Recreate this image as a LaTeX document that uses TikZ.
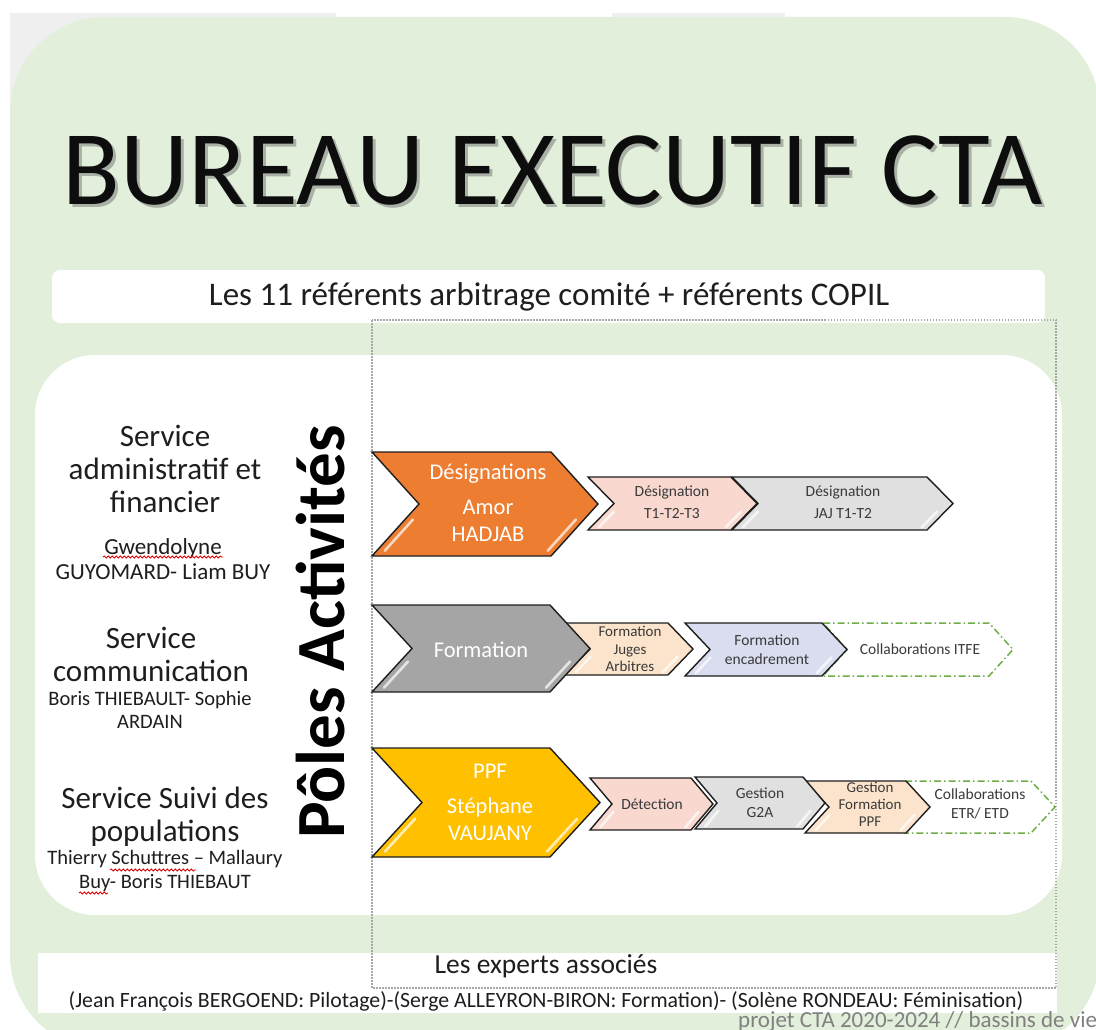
\documentclass[tikz,border=0pt]{standalone}
\usepackage{fontspec}
\setmainfont{Carlito}
\usetikzlibrary{decorations.pathmorphing}

\definecolor{bggreen}{HTML}{E2EFDA}
\definecolor{framegrey}{HTML}{EFEFEF}
\definecolor{orangefill}{HTML}{ED7D31}
\definecolor{greyfill}{HTML}{A5A5A5}
\definecolor{yellowfill}{HTML}{FFC000}
\definecolor{pinkfill}{HTML}{F8D8CF}
\definecolor{lightgreyfill}{HTML}{E0E0E0}
\definecolor{peachfill}{HTML}{FCE4CC}
\definecolor{lavenderfill}{HTML}{D9DDEF}
\definecolor{dashgreen}{HTML}{70AD47}
\definecolor{inktext}{HTML}{1E1E1E}
\definecolor{smalltext}{HTML}{3A3A3A}
\definecolor{dotgrey}{HTML}{A8A8A8}
\definecolor{shadowgrey}{HTML}{A9B0A6}

% chevron outline: left x, top y, tip x, bottom y, depth, style
\newcommand\chevshape[6]{%
  \path[#6] (#1,#2) -- ({#3-#5},#2) -- (#3,{(#2+#4)/2}) -- ({#3-#5},#4)
    -- (#1,#4) -- ({#1+#5},{(#2+#4)/2}) -- cycle;}
% glossy highlights along the two lower slanted edges
\newcommand\chevgloss[5]{%
  \draw[gloss] ({#1+#5-0.3*#5+8},{(#2+#4)/2+0.3*(#4-#2)/2})
            -- ({#1+#5-0.9*#5+8},{(#2+#4)/2+0.9*(#4-#2)/2});
  \draw[gloss] ({#3-0.3*#5-8},{(#2+#4)/2+0.3*(#4-#2)/2})
            -- ({#3-0.9*#5-8},{(#2+#4)/2+0.9*(#4-#2)/2});}
% text with a soft drop shadow
\newcommand\shadowed[1]{\makebox[0pt][l]{\hspace{3pt}\raisebox{-3pt}{\color{shadowgrey}#1}}#1}

\tikzset{
  chev/.style={draw=inktext, line width=1.4pt, line join=miter},
  chevdash/.style={draw=dashgreen, fill=white, line width=1.5pt,
    dash pattern=on 7pt off 3pt on 1.5pt off 3pt},
  gloss/.style={draw=white, opacity=0.7, line width=2.6pt, line cap=round},
  bigtxt/.style={text=white, align=center, inner sep=0pt,
    font=\fontsize{22.5}{27}\selectfont},
  smalltxt/.style={text=smalltext, align=center, inner sep=0pt,
    font=\fontsize{15.5}{19}\selectfont},
  servtxt/.style={text=inktext, align=center, inner sep=0pt,
    font=\fontsize{31}{33}\selectfont},
  nametxt/.style={text=inktext, align=center, inner sep=0pt,
    font=\fontsize{20.5}{23.5}\selectfont},
  spell/.style={draw=red!85!black, line width=0.8pt,
    decorate, decoration={snake, segment length=4pt, amplitude=1.1pt}},
}

\begin{document}
\begin{tikzpicture}[x=1pt, y=-1pt]
\useasboundingbox (0,0) rectangle (1096,1030);
\clip (0,0) rectangle (1096,1030);
\fill[white] (0,0) rectangle (1096,1030);

% frame pieces behind the panel
\fill[framegrey] (10,13) rectangle (336,140);
\fill[framegrey] (612,13) rectangle (785,40);

% main light green panel
\fill[bggreen, rounded corners=95pt] (10,17) rectangle (1100,1050);

% title
\node[text=black!95, inner sep=0pt,
  font=\fontsize{106}{112}\selectfont] (title) at (553,172) {\shadowed{BUREAU EXECUTIF CTA}};

% referents band
\fill[white, rounded corners=8pt] (52,270) rectangle (1045,323);
\node[text=inktext, inner sep=0pt, font=\fontsize{33}{36}\selectfont]
  (referents) at (549,297) {Les 11 référents arbitrage comité + référents COPIL};

% central white panel
\fill[white, rounded corners=60pt] (35,355) rectangle (1062,915);

% experts band
\fill[white] (38,953) rectangle (1057,1013);

% dotted frame around the activity poles
\draw[dotgrey, line width=1.1pt, dash pattern=on 1.5pt off 1.5pt]
  (372,320) rectangle (1056,988);

% ---- row 1 : designations
\chevshape{732}{477}{953}{530}{26}{chev, fill=lightgreyfill}
\chevgloss{732}{477}{953}{530}{26}
\chevshape{588}{477}{757}{530}{26}{chev, fill=pinkfill}
\chevgloss{588}{477}{757}{530}{26}
\chevshape{372}{452}{598}{556}{47}{chev, fill=orangefill}
\chevgloss{372}{452}{598}{556}{47}

% ---- row 2 : formation
\chevshape{823}{623}{1013}{676}{24}{chevdash}
\chevshape{685}{623}{847}{676}{25}{chev, fill=lavenderfill}
\chevgloss{685}{623}{847}{676}{25}
\chevshape{565}{623}{693}{675}{25}{chev, fill=peachfill}
\chevgloss{565}{623}{693}{675}{25}
\chevshape{372}{605}{590}{692}{40}{chev, fill=greyfill}
\chevgloss{372}{605}{590}{692}{40}

% ---- row 3 : PPF
\chevshape{905}{781}{1055}{833}{24}{chevdash}
\chevshape{805}{781}{930}{833}{24}{chev, fill=peachfill}
\chevgloss{805}{781}{930}{833}{24}
\chevshape{695}{777}{825}{829}{22}{chev, fill=lightgreyfill}
\chevgloss{695}{777}{825}{829}{22}
\chevshape{590}{778}{713}{830}{22}{chev, fill=pinkfill}
\chevgloss{590}{778}{713}{830}{22}
\chevshape{372}{748}{600}{857}{50}{chev, fill=yellowfill}
\chevgloss{372}{748}{600}{857}{50}

% chevron labels
\node[bigtxt] (desig) at (488,503) {Désignations\\[8pt]Amor\\HADJAB};
\node[smalltxt] (desigT) at (672,502) {Désignation\\[3pt]T1-T2-T3};
\node[smalltxt] (desigJAJ) at (843,502) {Désignation\\[3pt]JAJ T1-T2};

\node[bigtxt] (form) at (481,650) {Formation};
\node[smalltxt, font=\fontsize{15}{17.5}\selectfont] (formJA) at (630,649) {Formation\\Juges\\Arbitres};
\node[smalltxt] (formEnc) at (767,650) {Formation\\encadrement};
\node[smalltxt] (collabITFE) at (920,649) {Collaborations ITFE};

\node[bigtxt] (ppf) at (490,802) {PPF\\[8pt]Stéphane\\VAUJANY};
\node[smalltxt] (detect) at (652,804) {Détection};
\node[smalltxt] (g2a) at (760,803) {Gestion\\G2A};
\node[smalltxt, font=\fontsize{15}{17}\selectfont] (gestPPF) at (870,804) {Gestion\\Formation\\PPF};
\node[smalltxt] (collabETR) at (980,804) {Collaborations\\ETR/ ETD};

% pole title
\node[rotate=90, inner sep=0pt, text=black,
  font=\fontsize{69}{74}\selectfont\bfseries] (poles) at (320,632) {Pôles Activités};

% services
\node[servtxt] (serv1) at (165,469) {Service\\administratif et\\financier};
\node[nametxt, font=\fontsize{23}{24.5}\selectfont] (name1) at (163,559) {Gwendolyne\\GUYOMARD- Liam BUY};
\node[servtxt] (serv2) at (151,654) {Service\\communication};
\node[nametxt] (name2) at (150,710) {Boris THIEBAULT- Sophie\\ARDAIN};
\node[servtxt] (serv3) at (165,817) {Service Suivi des\\populations};
\node[nametxt] (name3) at (165,871) {Thierry Schuttres – Mallaury\\Buy- Boris THIEBAUT};

% spelling marks
\draw[spell] (103,557) -- (223,557);
\draw[spell] (110,870) -- (196,870);
\draw[spell] (79,893) -- (108,893);

% experts
\node[text=inktext, inner sep=0pt, font=\fontsize{27.5}{30}\selectfont]
  (experts) at (546,966) {Les experts associés};
\node[text=inktext, inner sep=0pt, font=\fontsize{21.8}{24}\selectfont]
  (expertlist) at (546,1001) {(Jean François BERGOEND: Pilotage)-(Serge ALLEYRON-BIRON: Formation)- (Solène RONDEAU: Féminisation)};
\node[anchor=west, text=gray, inner sep=0pt, font=\fontsize{23}{25}\selectfont]
  (footer) at (738,1021) {projet CTA 2020-2024 // bassins de vie};
\end{tikzpicture}
\end{document}
